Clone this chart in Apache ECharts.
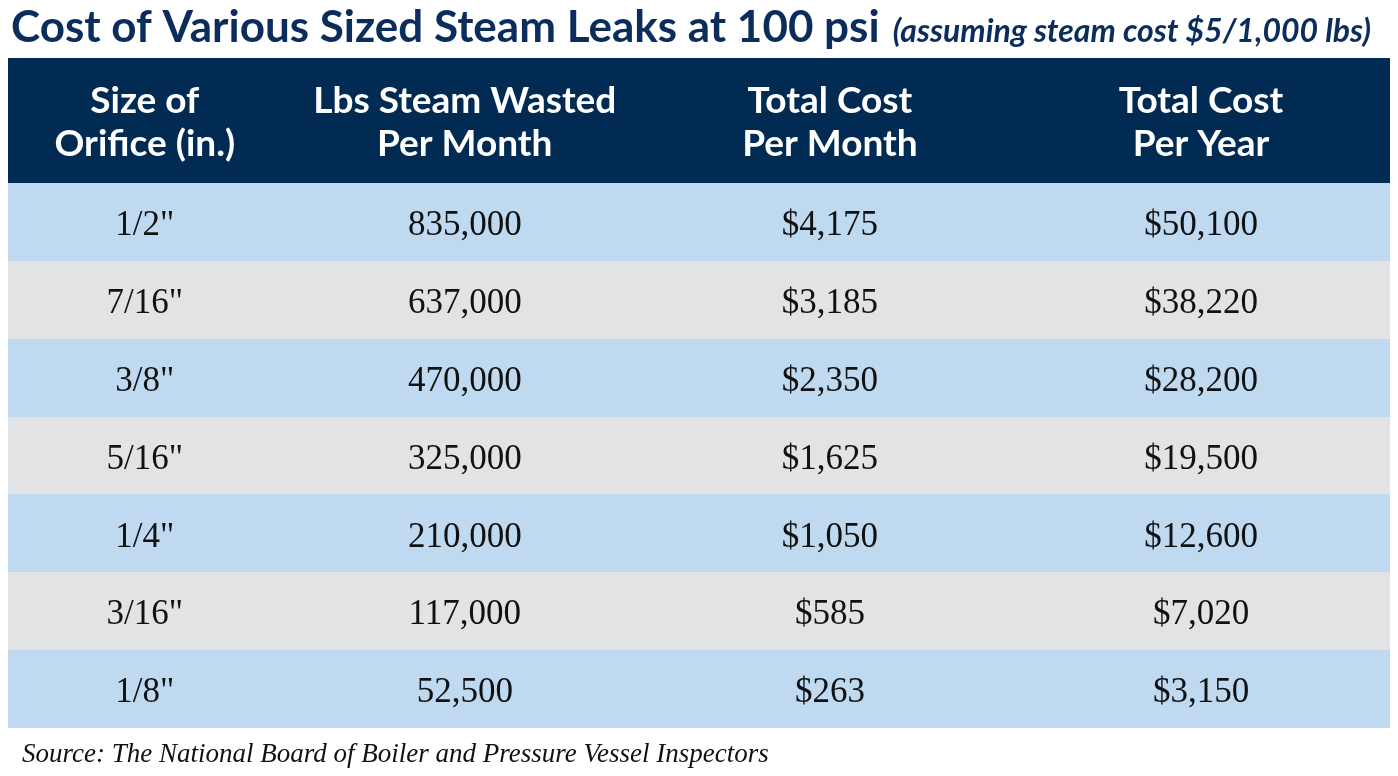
<!DOCTYPE html>
<html>
<head>
<meta charset="utf-8">
<title>Cost of Various Sized Steam Leaks at 100 psi</title>
<script src="https://cdn.jsdelivr.net/npm/echarts@6/dist/echarts.min.js"></script>
<style>
  html, body { margin: 0; padding: 0; background: #fff; }
  #chart { width: 1398px; height: 776px; }
</style>
</head>
<body>
<div id="chart"></div>
<script>
// table data
const columnHeaders = ['Size of\nOrifice (in.)', 'Lbs Steam Wasted\nPer Month', 'Total Cost\nPer Month', 'Total Cost\nPer Year'];
const orificeSizes = ['1/2"', '7/16"', '3/8"', '5/16"', '1/4"', '3/16"', '1/8"'];
const lbsPerMonth = [835000, 637000, 470000, 325000, 210000, 117000, 52500];
const costPerMonth = [4175, 3185, 2350, 1625, 1050, 585, 263];
const costPerYear = [50100, 38220, 28200, 19500, 12600, 7020, 3150];

// layout: column edges as fractions of the table width
const colEdges = [0, 0.198, 0.463, 0.7265, 1];

const NAVY = '#022b54';
const ROW_BLUE = '#bfd9f0';
const ROW_GRAY = '#e2e3e5';
const SERIF = '"Liberation Serif", "DejaVu Serif", serif';
const SANS = 'Lato, "Open Sans", sans-serif';

function fmt (n) {
  return String(n).replace(/\B(?=(\d{3})+(?!\d))/g, ',');
}

// build cell lists for the custom series
let headerCells = columnHeaders.map((h, c) => [c, 0, h]);
let bodyCells = [];
orificeSizes.forEach((size, r) => {
  bodyCells.push([0, r, size]);
  bodyCells.push([1, r, fmt(lbsPerMonth[r])]);
  bodyCells.push([2, r, '$' + fmt(costPerMonth[r])]);
  bodyCells.push([3, r, '$' + fmt(costPerYear[r])]);
});

/**
 * 绘制一个单元格：背景矩形 + 居中文字
 */
function cellItem (params, api, fill, textStyle, dy) {
  let c = api.value(0);
  let r = api.value(1);
  let left = api.coord([colEdges[c], r]);
  let right = api.coord([colEdges[c + 1], r]);
  let h = api.size([0, 1])[1];
  let x0 = Math.round(left[0]);
  let x1 = Math.round(right[0]);
  let y0 = Math.round(left[1] - h / 2);
  let y1 = Math.round(left[1] + h / 2);
  return {
    type: 'group',
    children: [
      {
        type: 'rect',
        shape: { x: x0, y: y0, width: x1 - x0, height: y1 - y0 },
        style: { fill: typeof fill === 'function' ? fill(r) : fill }
      },
      {
        type: 'text',
        style: Object.assign({
          text: api.value(2),
          x: (left[0] + right[0]) / 2,
          y: left[1] + dy,
          align: 'center',
          verticalAlign: 'middle',
          textAlign: 'center',
          textVerticalAlign: 'middle'
        }, textStyle)
      }
    ]
  };
}

let chart = echarts.init(document.getElementById('chart'), null, { renderer: 'canvas' });

chart.setOption({
  animation: false,
  backgroundColor: '#ffffff',
  title: [
    {
      text: '{a|Cost of Various Sized Steam Leaks at 100 psi} {b|(assuming steam cost $5/1,000 lbs)}',
      left: 6,
      top: 1,
      textStyle: {
        rich: {
          a: { fontFamily: SANS, fontWeight: 'bold', fontSize: 44, color: '#0b2d5c' },
          b: { fontFamily: SANS, fontStyle: 'italic', fontWeight: 'bold', fontSize: 32, color: '#0b2d5c', padding: [8, 0, 0, 8] }
        }
      }
    },
    {
      text: 'Source: The National Board of Boiler and Pressure Vessel Inspectors',
      left: 17,
      top: 736,
      textStyle: { fontFamily: SERIF, fontStyle: 'italic', fontWeight: 'normal', fontSize: 27, color: '#111' }
    }
  ],
  grid: [
    { left: 8, right: 8, top: 58, height: 125 },
    { left: 8, right: 8, top: 183, height: 545 }
  ],
  xAxis: [
    { type: 'value', gridIndex: 0, min: 0, max: 1, show: false },
    { type: 'value', gridIndex: 1, min: 0, max: 1, show: false }
  ],
  yAxis: [
    { type: 'category', gridIndex: 0, data: ['header'], show: false },
    { type: 'category', gridIndex: 1, data: orificeSizes, inverse: true, show: false }
  ],
  series: [
    {
      type: 'custom',
      xAxisIndex: 0,
      yAxisIndex: 0,
      data: headerCells,
      renderItem: (params, api) => cellItem(params, api, NAVY, {
        fill: '#ffffff',
        font: 'bold 37px ' + SANS,
        lineHeight: 43
      }, 2)
    },
    {
      type: 'custom',
      xAxisIndex: 1,
      yAxisIndex: 1,
      data: bodyCells,
      renderItem: (params, api) => cellItem(params, api, r => (r % 2 === 0 ? ROW_BLUE : ROW_GRAY), {
        fill: '#111111',
        font: '35px ' + SERIF
      }, 4)
    }
  ]
});
</script>
</body>
</html>
